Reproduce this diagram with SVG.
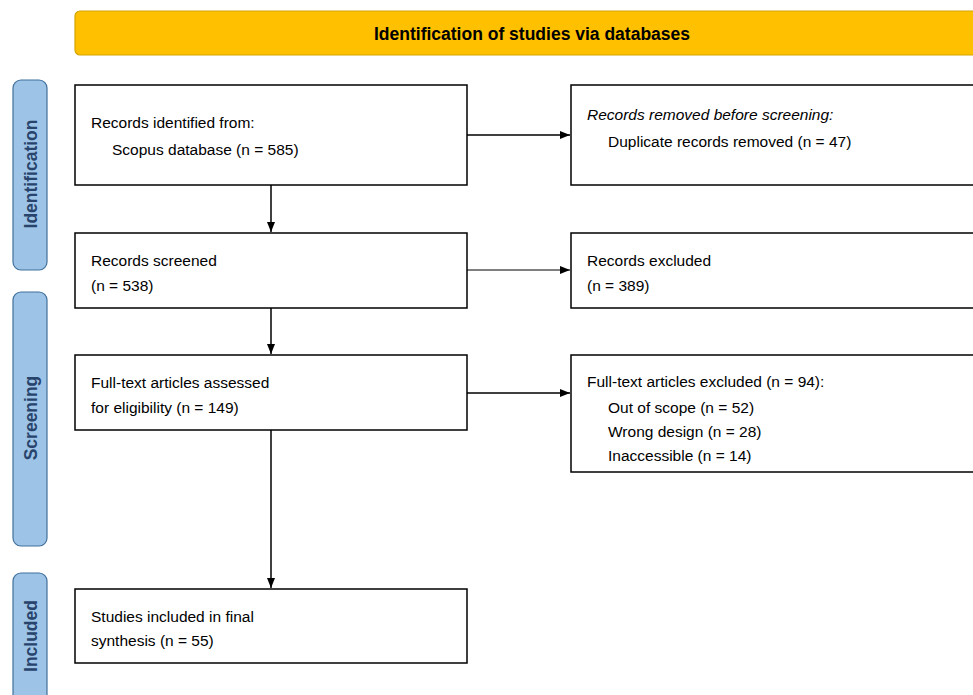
<svg xmlns="http://www.w3.org/2000/svg" width="973" height="695" viewBox="0 0 973 695">
<defs>
<marker id="ah" markerWidth="10" markerHeight="8" refX="10" refY="4" orient="auto" markerUnits="userSpaceOnUse">
<path d="M0,0 L10,4 L0,8 Z" fill="#000"/>
</marker>
<style>
.box{fill:#fff;stroke:#000;stroke-width:1.5}
.t{font-family:"Liberation Sans",Arial,sans-serif;font-size:15.5px;fill:#000}
.it{font-style:italic}
.side{fill:#9DC3E6;stroke:#41719C;stroke-width:1.2}
.st{font-family:"Liberation Sans",Arial,sans-serif;font-size:17.5px;font-weight:bold;fill:#28446C;text-anchor:middle}
.c{stroke:#000;stroke-width:1.5;fill:none;marker-end:url(#ah)}
</style>
</defs>
<rect width="973" height="695" fill="#fff"/>
<g id="header">
<rect x="75" y="11" width="910" height="44" rx="5" fill="#FFC000" stroke="#D4A300" stroke-width="1.2"/>
<text x="532" y="40" font-family="Liberation Sans,Arial,sans-serif" font-size="17.5" font-weight="bold" text-anchor="middle" fill="#000">Identification of studies via databases</text>
</g>
<g id="phase-identification">
<rect class="side" x="13" y="80" width="34" height="190" rx="8"/>
<text class="st" transform="translate(37,174) rotate(-90)">Identification</text>
</g>
<g id="phase-screening">
<rect class="side" x="13" y="292" width="34" height="254" rx="8"/>
<text class="st" transform="translate(37,418) rotate(-90)">Screening</text>
</g>
<g id="phase-included">
<rect class="side" x="13" y="573" width="34" height="130" rx="8"/>
<text class="st" transform="translate(37,636) rotate(-90)">Included</text>
</g>
<g id="records-identified">
<rect class="box" x="75" y="85" width="392" height="100"/>
<text class="t" x="91" y="128">Records identified from:</text>
<text class="t" x="112" y="155">Scopus database (n = 585)</text>
</g>
<g id="records-removed">
<rect class="box" x="571" y="85" width="410" height="100"/>
<text class="t it" x="587" y="120">Records removed before screening:</text>
<text class="t" x="608" y="147">Duplicate records removed (n = 47)</text>
</g>
<g id="records-screened">
<rect class="box" x="75" y="233" width="392" height="75"/>
<text class="t" x="91" y="266">Records screened</text>
<text class="t" x="91" y="291">(n = 538)</text>
</g>
<g id="records-excluded">
<rect class="box" x="571" y="233" width="410" height="75"/>
<text class="t" x="587" y="266">Records excluded</text>
<text class="t" x="587" y="291">(n = 389)</text>
</g>
<g id="fulltext-assessed">
<rect class="box" x="75" y="355" width="392" height="75"/>
<text class="t" x="91" y="388">Full-text articles assessed</text>
<text class="t" x="91" y="413">for eligibility (n = 149)</text>
</g>
<g id="fulltext-excluded">
<rect class="box" x="571" y="355" width="410" height="117"/>
<text class="t" x="587" y="387">Full-text articles excluded (n = 94):</text>
<text class="t" x="608" y="413">Out of scope (n = 52)</text>
<text class="t" x="608" y="437">Wrong design (n = 28)</text>
<text class="t" x="608" y="461">Inaccessible (n = 14)</text>
</g>
<g id="studies-included">
<rect class="box" x="75" y="589" width="392" height="74"/>
<text class="t" x="91" y="622">Studies included in final</text>
<text class="t" x="91" y="646">synthesis (n = 55)</text>
</g>
<g id="connectors">
<line class="c" x1="467" y1="135" x2="570" y2="135"/>
<line class="c" x1="271" y1="185" x2="271" y2="232"/>
<line class="c" x1="467" y1="270" x2="570" y2="270" style="stroke-width:1"/>
<line class="c" x1="271" y1="308" x2="271" y2="354"/>
<line class="c" x1="467" y1="393" x2="570" y2="393"/>
<line class="c" x1="271" y1="430" x2="271" y2="588"/>
</g>
</svg>
